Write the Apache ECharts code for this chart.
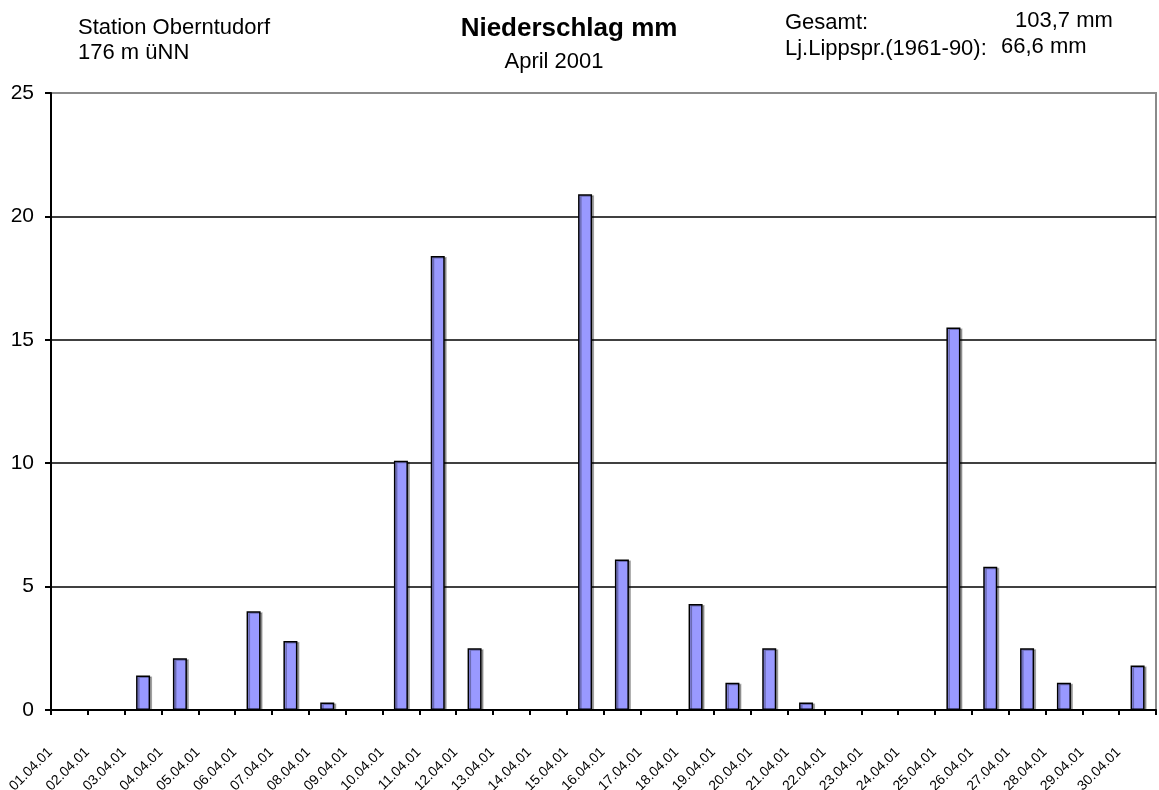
<!DOCTYPE html>
<html>
<head>
<meta charset="utf-8">
<title>Niederschlag April 2001</title>
<script src="https://cdn.jsdelivr.net/npm/echarts@6/dist/echarts.min.js"></script>
<style>
  html, body { margin: 0; padding: 0; background: #fff; }
  #demo { width: 1159px; height: 790px; }
</style>
</head>
<body>
<div id="demo"></div>
<script>
 // Tage (Kategorien)
 var days = ["01.04.01","02.04.01","03.04.01","04.04.01","05.04.01","06.04.01","07.04.01","08.04.01","09.04.01","10.04.01",
             "11.04.01","12.04.01","13.04.01","14.04.01","15.04.01","16.04.01","17.04.01","18.04.01","19.04.01","20.04.01",
             "21.04.01","22.04.01","23.04.01","24.04.01","25.04.01","26.04.01","27.04.01","28.04.01","29.04.01","30.04.01"];
 // Niederschlag in mm
 var rain = [0, 0, 1.4, 2.1, 0, 4.0, 2.8, 0.3, 0, 10.1,
             18.4, 2.5, 0, 0, 20.9, 6.1, 0, 4.3, 1.1, 2.5,
             0.3, 0, 0, 0, 15.5, 5.8, 2.5, 1.1, 0, 1.8];
 // y-Achse
 var yMin = 0, yMax = 25, yStep = 5;

 var font = "'Liberation Sans', Arial, sans-serif";

 var myCharts = echarts.init(document.getElementById("demo"));

 //Tage ohne Regen: kein Balken
 var barData = rain.map(function (v) { return v === 0 ? null : v; });

 function txt(size, bold) {
     return {fontFamily: font, fontSize: size, fontWeight: bold ? "bold" : "normal", color: "#000"};
 }

 myCharts.setOption({
     animation: false,
     //Texte oben
     title: [
         {text: "Station Oberntudorf\n176 m üNN", left: 78, top: 15, padding: 0,
          textStyle: Object.assign(txt(22), {lineHeight: 25})},
         {text: "Niederschlag mm", left: 569, top: 16, padding: 0, textAlign: "center",
          textStyle: txt(26, true)},
         {text: "April 2001", left: 554, top: 51, padding: 0, textAlign: "center",
          textStyle: txt(22)},
         {text: "Gesamt:\nLj.Lippspr.(1961-90):", left: 785, top: 10, padding: 0,
          textStyle: Object.assign(txt(22), {lineHeight: 26})},
         {text: "103,7 mm", left: 1015, top: 10, padding: 0, textStyle: txt(22)},
         {text: "66,6 mm", left: 1001, top: 36, padding: 0, textStyle: txt(22)}
     ],
     grid: {
         left: 51, right: 3, top: 93, bottom: 80,
         outerBoundsMode: "none",
         show: true, borderColor: "#8a8a8a", borderWidth: 2, backgroundColor: "#fff"
     },
     xAxis: {
         type: "category",
         data: days,
         axisLine: {lineStyle: {color: "#000", width: 2}},
         axisTick: {show: true, length: 5, lineStyle: {color: "#000", width: 2}},
         axisLabel: {
             interval: 0, rotate: 45, margin: 21,
             padding: [0, 27, 0, 0],
             fontFamily: font, fontSize: 14, color: "#000"
         },
         splitLine: {show: false}
     },
     yAxis: {
         type: "value",
         min: yMin, max: yMax, interval: yStep,
         axisLine: {show: true, lineStyle: {color: "#000", width: 2}},
         axisTick: {show: true, length: 6, lineStyle: {color: "#000", width: 2}},
         axisLabel: {margin: 17, fontFamily: font, fontSize: 21, color: "#000"},
         splitLine: {lineStyle: {color: ["#000", "#000", "#000", "#000", "#000", "#8a8a8a"], width: 1.5}}
     },
     series: [
         {
             name: "Niederschlag",
             type: "bar",
             data: barData,
             barWidth: 14,
             itemStyle: {
                 color: "#9999ff",
                 borderColor: "#000",
                 borderWidth: 1.5,
                 shadowColor: "rgba(0,0,0,0.3)",
                 shadowOffsetX: 2,
                 shadowOffsetY: 1
             }
         }
     ]
 });
</script>
</body>
</html>
